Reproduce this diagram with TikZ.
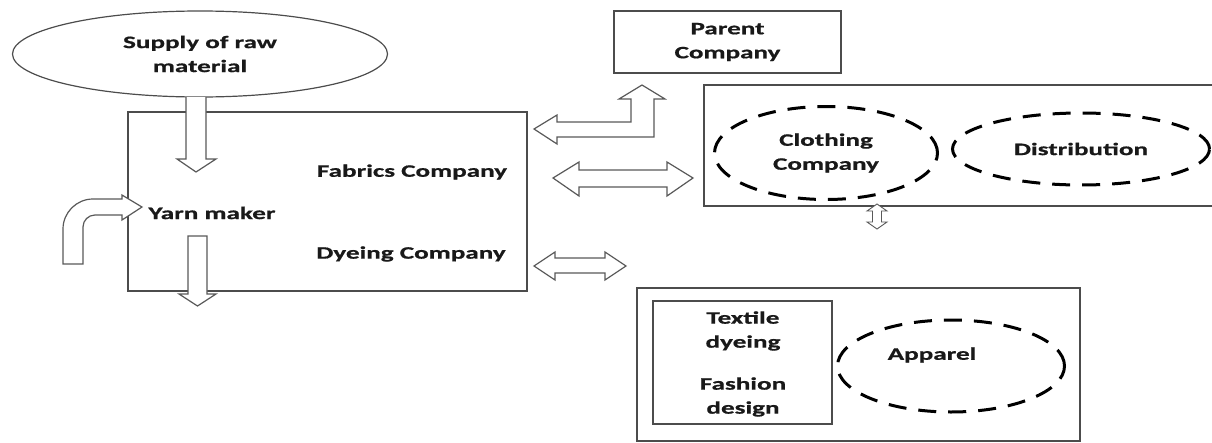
\documentclass[tikz,border=0pt]{standalone}
\usepackage{fontspec}
\setmainfont{Carlito}[FakeStretch=1.55, BoldFeatures={FakeBold=0.8}]
\usetikzlibrary{shapes.geometric}

\newcommand\lblfont{\bfseries\fontsize{17.5}{24}\selectfont}

\begin{document}
\begin{tikzpicture}[x=1pt, y=-1pt,
	box/.style={draw=black!70, line width=1.3pt, inner sep=0pt},
	dashell/.style={ellipse, draw=black, line width=3pt, dash pattern=on 18pt off 12pt, inner sep=0pt},
	lbl/.style={font=\lblfont, align=center, inner sep=0pt, text=black!90},
	blockarrow/.style={draw=black!65, line width=1.2pt, fill=white, line join=miter}]
	\useasboundingbox (0,0) rectangle (1212,442);

	% left part: raw material and the fabrics company
	\node (supply) [ellipse, draw=black!70, line width=1.2pt, minimum width=375, minimum height=86, lbl] at (200,54) {Supply of raw\\material};
	\node (fabrics) [box, minimum width=399, minimum height=179] at (327.5,201.5) {};
	\node (fabtext) [lbl] at (412,172) {Fabrics Company};
	\node (yarn) [lbl] at (212,213) {Yarn maker};
	\node (dyetext) [lbl] at (411,254) {Dyeing Company};

	% right part
	\node (parent) [box, minimum width=227, minimum height=62, lbl] at (727.5,42) {Parent\\Company};
	\node (clothbox) [box, minimum width=512, minimum height=121] at (960,145.5) {};
	\node (clothing) [dashell, minimum width=223, minimum height=93, lbl] at (826,153) {Clothing\\Company};
	\node (distrib) [dashell, minimum width=257, minimum height=72, lbl] at (1081,149) {Distribution};

	\node (apparelbox) [box, minimum width=443, minimum height=153] at (858.5,364.5) {};
	\node (dyebox) [box, minimum width=179, minimum height=123] at (742.5,362.5) {};
	\node (textile) [lbl] at (743,331) {Textile\\dyeing};
	\node (fashion) [lbl] at (743,397) {Fashion\\design};
	\node (apparel) [dashell, minimum width=227, minimum height=92] at (951,366) {};
	\node (appareltext) [lbl] at (932,355) {Apparel};

	% block arrows
	\draw[blockarrow] (186,97) -- (186,159) -- (177,159) -- (196,172) -- (216,159) -- (206,159) -- (206,97);
	\draw[blockarrow] (188,236) -- (188,294) -- (179,294) -- (197.5,306) -- (216,294) -- (207,294) -- (207,236) -- cycle;
	\draw[blockarrow] (63,264) -- (63,229) .. controls (63,212.5) and (76.5,199) .. (93,199) -- (122,199) -- (122,195)
		-- (142,207) -- (122,220) -- (122,215) -- (95,215) .. controls (88.4,215) and (83,220.4) .. (83,227) -- (83,264) -- cycle;
	\draw[blockarrow] (534,129) -- (557,115) -- (557,122) -- (631,122) -- (631,99) -- (619,99) -- (642,85) -- (665,99)
		-- (654,99) -- (654,137) -- (557,137) -- (557,144) -- cycle;
	\draw[blockarrow] (553,178) -- (579,162) -- (579,170) -- (667,170) -- (667,162) -- (693,178) -- (667,196) -- (667,187)
		-- (579,187) -- (579,196) -- cycle;
	\draw[blockarrow] (534,266) -- (555,252) -- (555,258) -- (605,258) -- (605,252) -- (626,266) -- (605,280) -- (605,273)
		-- (555,273) -- (555,280) -- cycle;
	\draw[blockarrow, line width=0.9pt] (877,204) -- (887,211) -- (881.5,211) -- (881.5,222) -- (887,222) -- (877,229)
		-- (867,222) -- (872.5,222) -- (872.5,211) -- (867,211) -- cycle;
\end{tikzpicture}
\end{document}
